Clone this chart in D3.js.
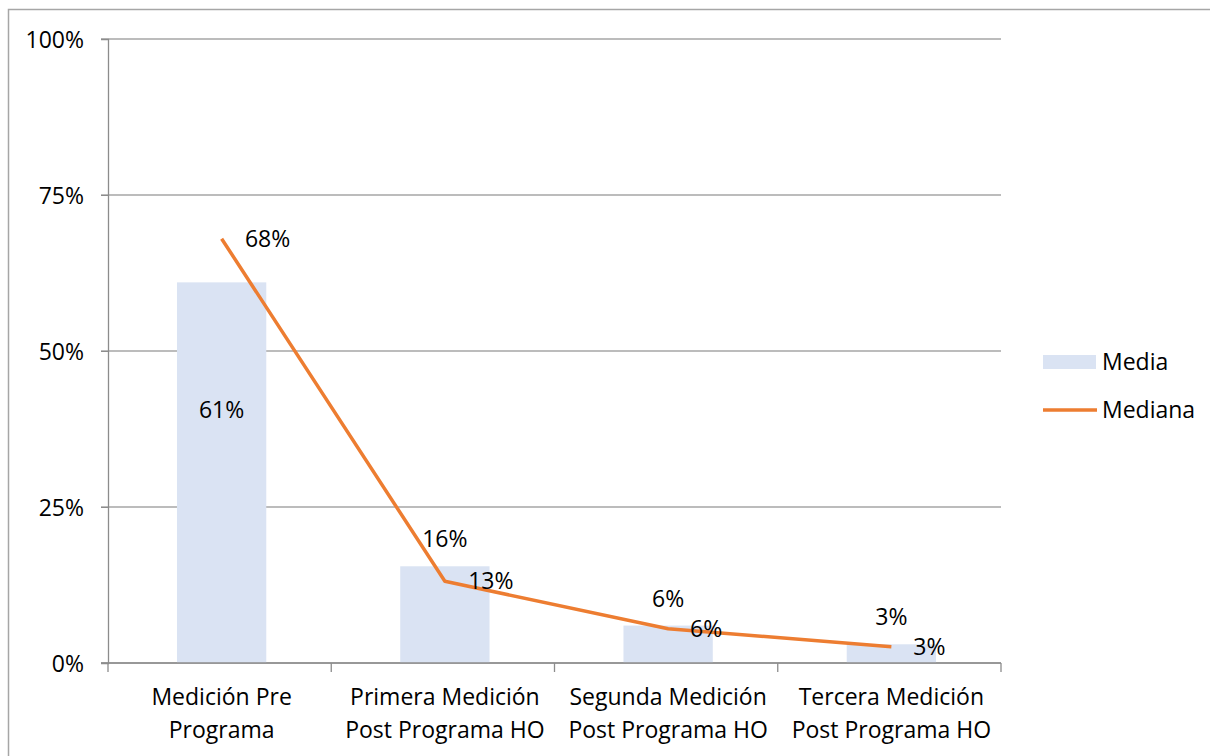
<!DOCTYPE html>
<html><head><meta charset="utf-8">
<script src="https://cdn.jsdelivr.net/npm/d3@7"></script>
<style>body{margin:0;background:#fff}svg{display:block}text{font-family:"Open Sans",sans-serif;fill:#000}</style>
</head><body>
<svg id="c" width="1210" height="756"></svg>
<script>
const categories = [["Medición Pre","Programa"],["Primera Medición","Post Programa HO"],["Segunda Medición","Post Programa HO"],["Tercera Medición","Post Programa HO"]];
const media = [0.61, 0.155, 0.06, 0.03];
const mediana = [0.68, 0.131, 0.055, 0.026];
const yTicks = [0, 0.25, 0.5, 0.75, 1];
const seriesNames = ["Media", "Mediana"];

const svg = d3.select("#c");
const m = {l:108, r:1001, t:39, b:663};
const fs = 23;
const ff = "'Open Sans',sans-serif";
const dyc = 8; // baseline offset for vertical centring
svg.append("rect").attr("x",8.5).attr("y",9.5).attr("width",1220).attr("height",760).attr("fill","none").attr("stroke","#a6a6a6").attr("stroke-width",1.5);

const x = d3.scaleBand().domain(d3.range(categories.length)).range([m.l,m.r]).paddingInner(0).paddingOuter(0);
const y = d3.scaleLinear().domain([0,1]).range([m.b,m.t]);

// gridlines
svg.append("g").selectAll("line").data(yTicks).join("line")
  .attr("x1",m.l-7).attr("x2",m.r).attr("y1",d=>y(d)).attr("y2",d=>y(d))
  .attr("stroke","#a6a6a6").attr("stroke-width",1.3);
// y axis
const ya = svg.append("g").attr("transform",`translate(${m.l},0)`)
  .call(d3.axisLeft(y).tickValues(yTicks).tickFormat(d3.format(".0%")).tickSize(7).tickPadding(17));
ya.select(".domain").attr("stroke","#8c8c8c").attr("stroke-width",1.3);
ya.selectAll(".tick line").attr("stroke","#8c8c8c");
ya.selectAll("text").style("font-size",fs+"px").style("font-family",ff).attr("fill","#000").attr("dy",null).attr("y",dyc);

// bars
const bw = x.bandwidth()*0.4;
svg.append("g").selectAll("rect").data(media).join("rect")
  .attr("x",(d,i)=>x(i)+x.bandwidth()/2-bw/2+2).attr("width",bw)
  .attr("y",d=>y(d)).attr("height",d=>y(0)-y(d)).attr("fill","#dae3f3");

// x axis
const xa = svg.append("g").attr("transform",`translate(0,${m.b})`);
xa.append("line").attr("x1",m.l-7).attr("x2",m.r).attr("stroke","#8c8c8c").attr("stroke-width",1.3);
const bounds = d3.range(categories.length+1).map(i=> i<categories.length ? x(i) : m.r);
xa.selectAll(".tk").data(bounds).join("line").attr("class","tk")
  .attr("x1",d=>d).attr("x2",d=>d).attr("y1",0).attr("y2",9).attr("stroke","#8c8c8c").attr("stroke-width",1.3);
categories.forEach((c,i)=>{
  c.forEach((ln,j)=>{
    xa.append("text").attr("x",x(i)+x.bandwidth()/2+2).attr("y",34+j*33+dyc)
      .attr("text-anchor","middle").style("font-size",fs+"px").text(ln);
  });
});

// line
const cx = i => x(i)+x.bandwidth()/2+2;
svg.append("path").datum(mediana)
  .attr("d",d3.line().x((d,i)=>cx(i)).y(d=>y(d)))
  .attr("fill","none").attr("stroke","#ed7d31").attr("stroke-width",3.5).attr("stroke-linejoin","round");

// labels
const fmt = d3.format(".0%");
svg.append("g").selectAll("text").data(media).join("text")
  .attr("x",(d,i)=>cx(i)).attr("y",(d,i)=> d>0.5 ? y(d)+128+dyc : y(d)-27+dyc)
  .attr("text-anchor","middle").style("font-size",fs+"px").text(d=>fmt(d));
svg.append("g").selectAll("text").data(mediana).join("text")
  .attr("x",(d,i)=>cx(i)+ (i<2?46:38)).attr("y",d=>y(d)+dyc)
  .attr("text-anchor","middle").style("font-size",fs+"px").text(d=>fmt(d));

// legend
const lg = svg.append("g").attr("transform","translate(1043,362)");
lg.append("rect").attr("x",0).attr("y",-7).attr("width",53).attr("height",14).attr("fill","#dae3f3");
lg.append("text").attr("x",59).attr("y",dyc).style("font-size",fs+"px").text(seriesNames[0]);
lg.append("line").attr("x1",0).attr("x2",54).attr("y1",48).attr("y2",48).attr("stroke","#ed7d31").attr("stroke-width",3.5);
lg.append("text").attr("x",59).attr("y",48+dyc).style("font-size",fs+"px").text(seriesNames[1]);
</script>
</body></html>
